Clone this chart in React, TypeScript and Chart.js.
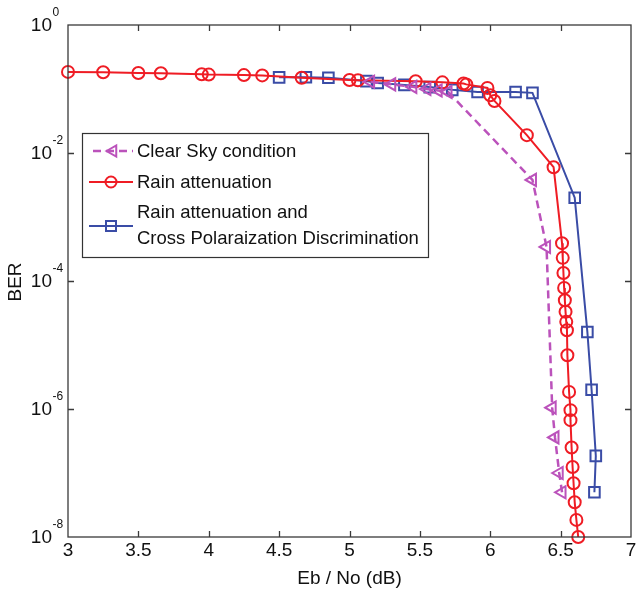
import React, { useEffect, useRef } from 'react';
import { Chart, registerables } from 'chart.js';

Chart.register(...registerables);

// ---- data ----
const clearSkyX = [5.15, 5.3, 5.45, 5.55, 5.63, 5.7, 6.3, 6.4, 6.44, 6.46, 6.49, 6.51];
const clearSkyY = [0.13, 0.118, 0.108, 0.1, 0.095, 0.09, 3.8e-3, 3.4e-4, 1.05e-6, 3.6e-7, 1.0e-7, 5.0e-8];

const rainX = [3.0, 3.25, 3.5, 3.66, 3.95, 4.0, 4.25, 4.38, 4.66, 5.0, 5.06, 5.47, 5.66, 5.81, 5.83, 5.98, 6.0, 6.03, 6.26, 6.45,
  6.51, 6.515, 6.52, 6.525, 6.53, 6.535, 6.54, 6.545, 6.548, 6.56, 6.57, 6.57, 6.578, 6.585, 6.592, 6.6, 6.612, 6.625];
const rainY = [0.185, 0.183, 0.178, 0.176, 0.17, 0.168, 0.165, 0.163, 0.15, 0.138, 0.137, 0.132, 0.127, 0.122, 0.118, 0.104, 0.08, 0.065, 0.019, 0.006,
  3.9e-4, 2.3e-4, 1.33e-4, 7.8e-5, 5.0e-5, 3.3e-5, 2.3e-5, 1.7e-5, 6.9e-6, 1.85e-6, 9.6e-7, 6.7e-7, 2.5e-7, 1.24e-7, 6.9e-8, 3.5e-8, 1.85e-8, 1.0e-8];

const xpdX = [4.5, 4.69, 4.85, 5.12, 5.2, 5.39, 5.57, 5.73, 5.91, 6.18, 6.3, 6.6, 6.69, 6.72, 6.75, 6.74];
const xpdY = [0.152, 0.153, 0.15, 0.133, 0.124, 0.116, 0.107, 0.097, 0.09, 0.09, 0.087, 2.0e-3, 1.6e-5, 2.0e-6, 1.85e-7, 5.0e-8];

const xTickValues = [3, 3.5, 4, 4.5, 5, 5.5, 6, 6.5, 7];
const yTickExponents = [0, -2, -4, -6, -8];

const seriesLabels = ['Clear Sky condition', 'Rain attenuation', 'Rain attenuation and', 'Cross Polaraization Discrimination'];
const xTitle = 'Eb / No (dB)';
const yTitle = 'BER';

const FONT = "'Liberation Sans', Arial, Helvetica, sans-serif";
const RED = '#ef1c24';
const BLUE = '#3a4ca6';
const MAGENTA = '#bb52bb';
const TEXT = '#111111';

const pts = (xs: number[], ys: number[]) => xs.map((x, i) => ({ x, y: ys[i] }));

function drawTriangleLeft(ctx: CanvasRenderingContext2D, cx: number, cy: number, r: number) {
  ctx.beginPath();
  ctx.moveTo(cx - r, cy);
  ctx.lineTo(cx + r * 0.5, cy - r * 0.866);
  ctx.lineTo(cx + r * 0.5, cy + r * 0.866);
  ctx.closePath();
  ctx.stroke();
}

const framePlugin = {
  id: 'matlabFrame',
  afterDraw(chart: any) {
    const { ctx, chartArea: a, scales } = chart;
    const xs = scales.x;
    const ys = scales.y;
    ctx.save();
    // box
    ctx.strokeStyle = '#3a3a3a';
    ctx.lineWidth = 1.3;
    ctx.setLineDash([]);
    ctx.strokeRect(a.left, a.top, a.right - a.left, a.bottom - a.top);
    // inward ticks
    ctx.beginPath();
    for (const v of xTickValues) {
      if (v === xTickValues[0] || v === xTickValues[xTickValues.length - 1]) continue;
      const px = Math.round(xs.getPixelForValue(v)) + 0.5;
      ctx.moveTo(px, a.bottom); ctx.lineTo(px, a.bottom - 6);
      ctx.moveTo(px, a.top); ctx.lineTo(px, a.top + 6);
    }
    for (const e of yTickExponents) {
      if (e === 0 || e === -8) continue;
      const py = Math.round(ys.getPixelForValue(Math.pow(10, e))) + 0.5;
      ctx.moveTo(a.left, py); ctx.lineTo(a.left + 6, py);
      ctx.moveTo(a.right, py); ctx.lineTo(a.right - 6, py);
    }
    ctx.stroke();

    ctx.fillStyle = TEXT;
    // x tick labels
    ctx.font = `19px ${FONT}`;
    ctx.textAlign = 'center';
    ctx.textBaseline = 'top';
    for (const v of xTickValues) {
      ctx.fillText(String(v), xs.getPixelForValue(v), a.bottom + 4);
    }

    // y tick labels 10^e
    for (const e of yTickExponents) {
      const py = ys.getPixelForValue(Math.pow(10, e));
      ctx.font = `19px ${FONT}`;
      ctx.textAlign = 'right';
      ctx.textBaseline = 'middle';
      ctx.fillText('10', 52, py + 1);
      ctx.font = `12px ${FONT}`;
      ctx.textAlign = 'left';
      ctx.fillText(String(e), 52.5, py - 12);
    }
    // y title
    ctx.save();
    ctx.translate(16, (a.top + a.bottom) / 2 + 1);
    ctx.rotate(-Math.PI / 2);
    ctx.font = `19px ${FONT}`;
    ctx.textAlign = 'center';
    ctx.textBaseline = 'middle';
    ctx.fillText(yTitle, 0, 0);
    ctx.restore();

    // legend
    const bx = 82, by = 133, bw = 346, bh = 124;
    ctx.fillStyle = '#ffffff';
    ctx.fillRect(bx, by, bw, bh);
    ctx.strokeStyle = '#333333';
    ctx.lineWidth = 1.2;
    ctx.strokeRect(bx + 0.5, by + 0.5, bw, bh);

    const textX = 137;
    ctx.font = `18.5px ${FONT}`;
    ctx.textAlign = 'left';
    ctx.textBaseline = 'middle';

    // row 1: clear sky
    ctx.strokeStyle = MAGENTA;
    ctx.lineWidth = 2.5;
    ctx.setLineDash([8, 5]);
    ctx.beginPath(); ctx.moveTo(93, 151); ctx.lineTo(133, 151); ctx.stroke();
    ctx.setLineDash([]);
    ctx.lineWidth = 2;
    drawTriangleLeft(ctx, 113, 151, 6.5);
    ctx.fillStyle = TEXT;
    ctx.fillText(seriesLabels[0], textX, 152);

    // row 2: rain
    ctx.strokeStyle = RED;
    ctx.lineWidth = 2;
    ctx.beginPath(); ctx.moveTo(89, 182); ctx.lineTo(133, 182); ctx.stroke();
    ctx.beginPath(); ctx.arc(111, 182, 5.5, 0, Math.PI * 2); ctx.stroke();
    ctx.fillText(seriesLabels[1], textX, 183);

    // row 3: rain + XPD
    ctx.strokeStyle = BLUE;
    ctx.lineWidth = 2;
    ctx.beginPath(); ctx.moveTo(89, 226); ctx.lineTo(133, 226); ctx.stroke();
    ctx.strokeRect(106, 221, 10, 10);
    ctx.fillText(seriesLabels[2], textX, 213);
    ctx.fillText(seriesLabels[3], textX, 239);

    ctx.restore();
  },
};

export default function App() {
  const canvasRef = useRef<HTMLCanvasElement | null>(null);

  useEffect(() => {
    const canvas = canvasRef.current;
    if (!canvas) return;
    const chart = new Chart(canvas, {
      type: 'line',
      data: {
        datasets: [
          {
            label: seriesLabels[0],
            data: pts(clearSkyX, clearSkyY),
            borderColor: MAGENTA,
            backgroundColor: 'rgba(0,0,0,0)',
            borderWidth: 2.5,
            borderDash: [8, 5],
            pointStyle: 'triangle',
            rotation: -90,
            pointRadius: 7,
            pointBorderWidth: 2,
            pointBorderColor: MAGENTA,
            pointBackgroundColor: 'rgba(0,0,0,0)',
            tension: 0,
            clip: false as any,
          },
          {
            label: seriesLabels[1],
            data: pts(rainX, rainY),
            borderColor: RED,
            backgroundColor: 'rgba(0,0,0,0)',
            borderWidth: 2,
            pointStyle: 'circle',
            pointRadius: 6,
            pointBorderWidth: 2,
            pointBorderColor: RED,
            pointBackgroundColor: 'rgba(0,0,0,0)',
            tension: 0,
            clip: false as any,
          },
          {
            label: seriesLabels[2] + ' ' + seriesLabels[3],
            data: pts(xpdX, xpdY),
            borderColor: BLUE,
            backgroundColor: 'rgba(0,0,0,0)',
            borderWidth: 2,
            pointStyle: 'rect',
            pointRadius: 7.5,
            pointBorderWidth: 2,
            pointBorderColor: BLUE,
            pointBackgroundColor: 'rgba(0,0,0,0)',
            tension: 0,
            clip: false as any,
          },
        ],
      },
      options: {
        responsive: false,
        animation: false,
        devicePixelRatio: 1,
        layout: { autoPadding: false, padding: { top: 25, right: 6, left: 0, bottom: 0 } },
        plugins: {
          legend: { display: false },
          tooltip: { enabled: false },
        },
        scales: {
          x: {
            type: 'linear',
            min: 3,
            max: 7,
            afterBuildTicks: (scale: any) => {
              scale.ticks = xTickValues.map((v) => ({ value: v }));
            },
            afterFit: (scale: any) => {
              scale.height = 59;
            },
            grid: { display: false, drawTicks: false },
            border: { display: false },
            ticks: { display: false },
            title: {
              display: true,
              text: xTitle,
              color: TEXT,
              font: { family: FONT, size: 19 },
              padding: { top: 0, bottom: 6 },
            },
          },
          y: {
            type: 'logarithmic',
            min: 1e-8,
            max: 1,
            afterBuildTicks: (scale: any) => {
              scale.ticks = yTickExponents.map((e) => ({ value: Math.pow(10, e) }));
            },
            afterFit: (scale: any) => {
              scale.width = 68;
            },
            grid: { display: false, drawTicks: false },
            border: { display: false },
            ticks: { display: false },
          },
        },
      } as any,
      plugins: [framePlugin],
    });
    return () => chart.destroy();
  }, []);

  return (
    <div style={{ position: 'absolute', left: 0, top: 0, width: 637, height: 596, background: '#ffffff' }}>
      <canvas ref={canvasRef} width={637} height={596} style={{ display: 'block', width: 637, height: 596 }} />
    </div>
  );
}
